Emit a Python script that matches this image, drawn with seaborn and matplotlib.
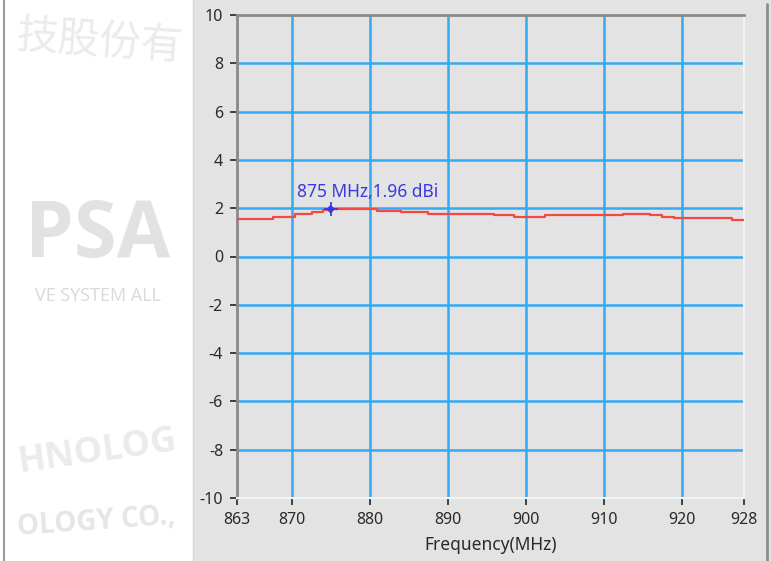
import matplotlib
matplotlib.use("Agg")
import matplotlib.pyplot as plt
import seaborn as sns
import pandas as pd
from matplotlib.patches import Rectangle
from matplotlib.lines import Line2D

# ---- data ----
freq_steps = [863, 867.6, 870.4, 872.6, 874.0, 875, 881, 884, 887.5, 896, 898.5,
              902.5, 912.5, 916, 917.5, 919, 926.5, 928]
gain_steps = [1.54, 1.62, 1.76, 1.84, 1.93, 1.96, 1.87, 1.83, 1.76, 1.70, 1.64,
              1.72, 1.77, 1.72, 1.65, 1.58, 1.52, 1.52]
marker_freq = [875]
marker_gain = [1.96]
marker_label = "875 MHz,1.96 dBi"
x_ticks = [863, 870, 880, 890, 900, 910, 920, 928]
y_ticks = [-10, -8, -6, -4, -2, 0, 2, 4, 6, 8, 10]
x_grid = [870, 880, 890, 900, 910, 920]
y_grid = [-8, -6, -4, -2, 0, 2, 4, 6, 8]
x_label = "Frequency(MHz)"

sns.set_theme(style="white")
plt.rcParams["font.family"] = ["Noto Sans", "DejaVu Sans"]
plt.rcParams["axes.unicode_minus"] = False

W, H = 771, 561
fig = plt.figure(figsize=(W / 100, H / 100), dpi=100, facecolor="#e3e3e3")

# left white watermark panel
panel = Rectangle((0, 0), 193 / W, 1, transform=fig.transFigure,
                  facecolor="white", edgecolor="none", zorder=0.5)
fig.add_artist(panel)
fig.add_artist(Line2D([4 / W, 4 / W], [0, 1], transform=fig.transFigure,
                      color="#9a9a9a", lw=1.5))
fig.add_artist(Line2D([767 / W, 767 / W], [0, 1 - 4 / H], transform=fig.transFigure,
                      color="#8c8c8c", lw=2))
fig.add_artist(Line2D([193 / W, 193 / W], [0, 1], transform=fig.transFigure,
                      color="#d8d8d8", lw=1))

wm_texts = [
    (100, 42, "技股份有", 30, -4, ["Noto Sans CJK SC", "DejaVu Sans"], "normal", "#ebebeb"),
    (98, 236, "PSA", 56, 0, ["Open Sans", "DejaVu Sans"], "bold", "#e2e2e2"),
    (98, 296, "VE SYSTEM ALL", 13, 0, ["Open Sans", "DejaVu Sans"], "normal", "#d9d9d9"),
    (98, 452, "HNOLOG", 26, 8, ["Open Sans", "DejaVu Sans"], "bold", "#ebebeb"),
    (96, 522, "OLOGY CO.,", 20, 4, ["Open Sans", "DejaVu Sans"], "bold", "#e6e6e6"),
]
for px, py, s, fs, rot, fam, wt, col in wm_texts:
    t = fig.text(px / W, 1 - py / H, s, fontsize=fs, rotation=rot, color=col,
                 ha="center", va="center", family=fam, fontweight=wt, zorder=0.6)
    t.set_clip_path(panel)

# ---- axes ----
left, right, top, bottom = 237, 744, 15, 498
ax = fig.add_axes([left / W, 1 - bottom / H, (right - left) / W, (bottom - top) / H])
ax.set_facecolor("#e3e3e3")

for g in x_grid:
    ax.axvline(g, color="#33aaf3", lw=1.8, zorder=1)
for g in y_grid:
    ax.axhline(g, color="#33aaf3", lw=1.8, zorder=1)

df = pd.DataFrame({"freq": freq_steps, "gain": gain_steps})
sns.lineplot(data=df, x="freq", y="gain", ax=ax, estimator=None, color="#f24848",
             lw=1.6, drawstyle="steps-post", zorder=3)

mdf = pd.DataFrame({"freq": marker_freq, "gain": marker_gain})
sns.scatterplot(data=mdf, x="freq", y="gain", ax=ax, marker="+", s=100,
                color="#3232e6", linewidth=1.2, zorder=4)
sns.scatterplot(data=mdf, x="freq", y="gain", ax=ax, marker="D", s=12,
                facecolor="none", edgecolor="#3232e6", linewidth=1.0, zorder=4)
ax.annotate(marker_label, (marker_freq[0], marker_gain[0]), xytext=(-24, 8.5),
            textcoords="offset points", color="#3a3ae0", fontsize=12.5,
            ha="left", va="baseline")

ax.set_xlim(x_ticks[0], x_ticks[-1])
ax.set_ylim(y_ticks[0], y_ticks[-1])
ax.set_xticks(x_ticks)
ax.set_yticks(y_ticks)
ax.set_xticklabels([str(v) for v in x_ticks])
ax.set_yticklabels([str(v) for v in y_ticks])
ax.tick_params(axis="both", which="major", direction="out", length=5, width=1.3,
               color="#333333", labelsize=11.5, labelcolor="#2a2a2a", pad=5,
               left=True, bottom=True)
ax.set_xlabel(x_label, fontsize=12.5, color="#2a2a2a", labelpad=6)
ax.set_ylabel("")

ax.spines["top"].set_color("#8a8a8a")
ax.spines["left"].set_color("#8a8a8a")
ax.spines["top"].set_linewidth(2)
ax.spines["left"].set_linewidth(2)
ax.spines["bottom"].set_color("#f4f4f4")
ax.spines["right"].set_color("#f4f4f4")
ax.spines["bottom"].set_linewidth(1.5)
ax.spines["right"].set_linewidth(1.5)

fig.savefig("out.png", dpi=100, facecolor=fig.get_facecolor())
